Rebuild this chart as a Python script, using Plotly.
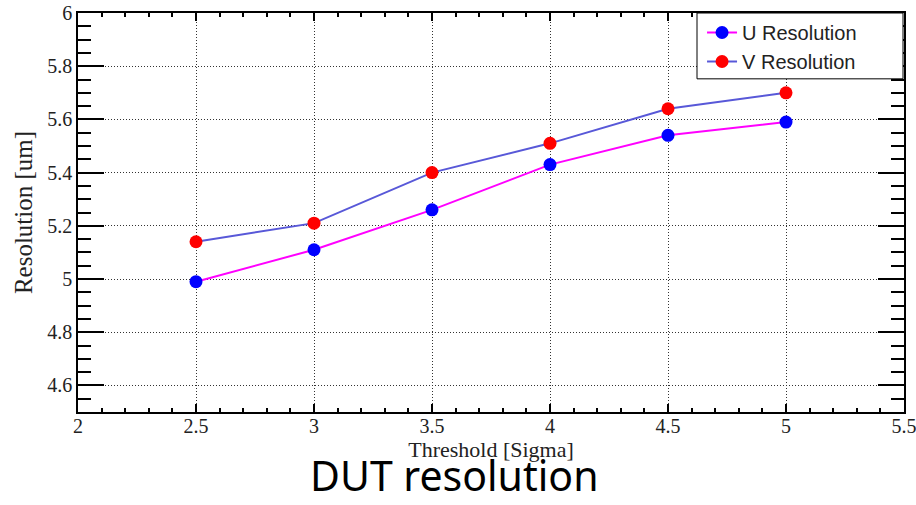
import plotly.graph_objects as go

threshold = [2.5, 3.0, 3.5, 4.0, 4.5, 5.0]
u_resolution = [4.99, 5.11, 5.26, 5.43, 5.54, 5.59]
v_resolution = [5.14, 5.21, 5.40, 5.51, 5.64, 5.70]

fig = go.Figure()
fig.add_trace(go.Scatter(x=threshold, y=u_resolution, mode="lines+markers",
                         name="U Resolution", legendgroup="u",
                         line=dict(color="#ff00ff", width=2),
                         marker=dict(color="#0000ff", size=13)))
fig.add_trace(go.Scatter(x=threshold, y=v_resolution, mode="lines+markers",
                         name="V Resolution", legendgroup="v",
                         line=dict(color="#5858d8", width=2),
                         marker=dict(color="#ff0000", size=13)))

axis_common = dict(
    showline=True, linecolor="black", linewidth=1.5, mirror="ticks",
    ticks="inside", tickcolor="black", tickwidth=1.5,
    showgrid=True, gridcolor="#333", griddash="1px,2px", gridwidth=1,
    zeroline=False, automargin=False, ticklabeloverflow="allow",
    tickfont=dict(family="Liberation Serif", size=20, color="#222"),
)

fig.update_xaxes(**axis_common, range=[2, 5.5], dtick=0.5, tick0=0, ticklen=8,
                 ticklabelstandoff=-5,
                 minor=dict(dtick=0.1, ticks="inside", ticklen=4, tickcolor="black", showgrid=False),
                 title=dict(text="Threshold [Sigma]", font=dict(family="Liberation Serif", size=22, color="#222"), standoff=0))
fig.update_yaxes(**axis_common, range=[4.5, 6], dtick=0.2, tick0=0, ticklen=26,
                 minor=dict(dtick=0.05, ticks="inside", ticklen=13, tickcolor="black", showgrid=False),
                 title=dict(text="Resolution [um]", font=dict(family="Liberation Serif", size=25, color="#222"), standoff=8))

fig.update_layout(
    width=916, height=505,
    margin=dict(l=78, r=12, t=13, b=93),
    plot_bgcolor="white", paper_bgcolor="white",
    legend=dict(x=0.7555, y=1, xanchor="left", yanchor="top",
                bgcolor="rgba(0,0,0,0)", borderwidth=0,
                font=dict(family="Liberation Sans", size=20, color="#222"),
                tracegroupgap=0),
    shapes=[dict(type="rect", xref="paper", yref="paper",
                 x0=0.7494, x1=0.9988, y0=0.835, y1=1.0,
                 fillcolor="white", line=dict(color="black", width=1), layer="above")],
    annotations=[dict(text="DUT resolution", xref="paper", yref="paper",
                      x=0.455, y=-0.233, xanchor="center", yanchor="bottom",
                      showarrow=False,
                      font=dict(family="Noto Sans", size=41, color="black"))],
)

fig.write_html("out.html")
